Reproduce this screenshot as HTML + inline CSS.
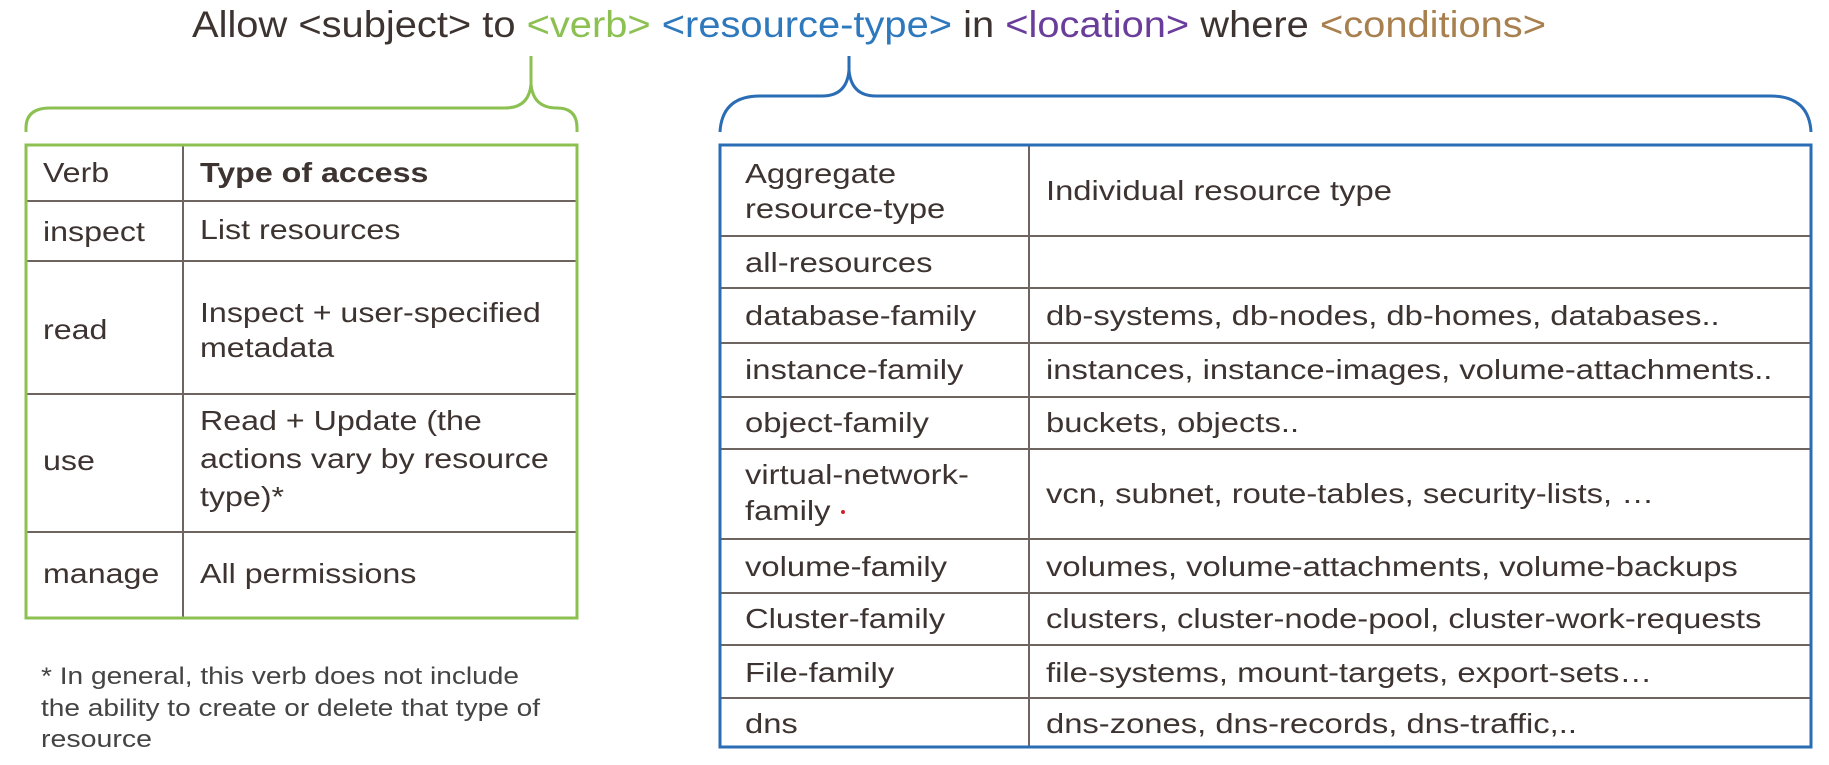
<!DOCTYPE html>
<html><head><meta charset="utf-8"><style>
html,body{margin:0;padding:0;background:#fff;}
svg{display:block;}
text{font-family:"Liberation Sans",sans-serif;fill:#3d3431;}
.c{font-size:28px;}
.f{font-size:24px;fill:#444;}
</style></head><body>
<svg width="1829" height="765" viewBox="0 0 1829 765" xmlns="http://www.w3.org/2000/svg">
<rect width="1829" height="765" fill="#fff"/>
<!-- title -->
<text x="192" y="37" font-size="37" textLength="1354" lengthAdjust="spacingAndGlyphs">Allow &lt;subject&gt; to <tspan style="fill:#8cc152">&lt;verb&gt;</tspan> <tspan style="fill:#2e78bd">&lt;resource-type&gt;</tspan> in <tspan style="fill:#6a3d9a">&lt;location&gt;</tspan> where <tspan style="fill:#a8804f">&lt;conditions&gt;</tspan></text>

<!-- green brace -->
<path d="M26,132 L26,128 Q26,108 50,108 L505,108 Q529,108 531,84 L531,56 M531,84 Q533,108 557,108 Q577,108 577,128 L577,132" fill="none" stroke="#8cc152" stroke-width="3"/>
<!-- blue brace -->
<path d="M720,132 Q722,96 760,96 L822,96 Q847,96 849,70 L849,56 M849,70 Q851,96 876,96 L1770,96 Q1809,96 1811,132" fill="none" stroke="#2a6db5" stroke-width="3"/>

<!-- left table -->
<g stroke="#6e6561" stroke-width="2">
<line x1="183" y1="145" x2="183" y2="618"/>
<line x1="26" y1="201" x2="577" y2="201"/>
<line x1="26" y1="261" x2="577" y2="261"/>
<line x1="26" y1="394" x2="577" y2="394"/>
<line x1="26" y1="532" x2="577" y2="532"/>
</g>
<rect x="26" y="145" width="551" height="473" fill="none" stroke="#8cc152" stroke-width="3"/>
<g transform="matrix(1.15,0,0,1,-6.45,0)">
<text class="c" x="43" y="182">Verb</text>
<text class="c" x="43" y="241">inspect</text>
<text class="c" x="43" y="339">read</text>
<text class="c" x="43" y="470">use</text>
<text class="c" x="43" y="583">manage</text>
</g>
<g transform="matrix(1.15,0,0,1,-30,0)">
<text class="c" x="200" y="182" font-weight="bold">Type of access</text>
<text class="c" x="200" y="239">List resources</text>
<text class="c" x="200" y="322">Inspect + user-specified</text>
<text class="c" x="200" y="357">metadata</text>
<text class="c" x="200" y="430">Read + Update (the</text>
<text class="c" x="200" y="468">actions vary by resource</text>
<text class="c" x="200" y="506">type)*</text>
<text class="c" x="200" y="583">All permissions</text>
</g>

<!-- footnote -->
<text class="f" x="41" y="684" textLength="478" lengthAdjust="spacingAndGlyphs">* In general, this verb does not include</text>
<text class="f" x="41" y="716" textLength="499" lengthAdjust="spacingAndGlyphs">the ability to create or delete that type of</text>
<text class="f" x="41" y="747" textLength="111" lengthAdjust="spacingAndGlyphs">resource</text>

<!-- right table -->
<g stroke="#6e6561" stroke-width="2">
<line x1="1029" y1="145" x2="1029" y2="747"/>
<line x1="720" y1="236" x2="1811" y2="236"/>
<line x1="720" y1="288" x2="1811" y2="288"/>
<line x1="720" y1="343" x2="1811" y2="343"/>
<line x1="720" y1="397" x2="1811" y2="397"/>
<line x1="720" y1="449" x2="1811" y2="449"/>
<line x1="720" y1="539" x2="1811" y2="539"/>
<line x1="720" y1="593" x2="1811" y2="593"/>
<line x1="720" y1="645" x2="1811" y2="645"/>
<line x1="720" y1="698" x2="1811" y2="698"/>
</g>
<rect x="720" y="145" width="1091" height="602" fill="none" stroke="#2a6db5" stroke-width="3"/>
<g transform="matrix(1.17,0,0,1,-126.65,0)">
<text class="c" x="745" y="183">Aggregate</text>
<text class="c" x="745" y="218">resource-type</text>
<text class="c" x="745" y="272">all-resources</text>
<text class="c" x="745" y="325">database-family</text>
<text class="c" x="745" y="379">instance-family</text>
<text class="c" x="745" y="432">object-family</text>
<text class="c" x="745" y="484">virtual-network-</text>
<text class="c" x="745" y="520">family</text>
<text class="c" x="745" y="576">volume-family</text>
<text class="c" x="745" y="628">Cluster-family</text>
<text class="c" x="745" y="682">File-family</text>
<text class="c" x="745" y="733">dns</text>
</g>
<circle cx="843" cy="512" r="2" fill="#d0202a"/>
<g transform="matrix(1.17,0,0,1,-177.82,0)">
<text class="c" x="1046" y="200">Individual resource type</text>
<text class="c" x="1046" y="325">db-systems, db-nodes, db-homes, databases..</text>
<text class="c" x="1046" y="379">instances, instance-images, volume-attachments..</text>
<text class="c" x="1046" y="432">buckets, objects..</text>
<text class="c" x="1046" y="503">vcn, subnet, route-tables, security-lists, …</text>
<text class="c" x="1046" y="576">volumes, volume-attachments, volume-backups</text>
<text class="c" x="1046" y="628">clusters, cluster-node-pool, cluster-work-requests</text>
<text class="c" x="1046" y="682">file-systems, mount-targets, export-sets…</text>
<text class="c" x="1046" y="733">dns-zones, dns-records, dns-traffic,..</text>
</g>
</svg>
</body></html>
